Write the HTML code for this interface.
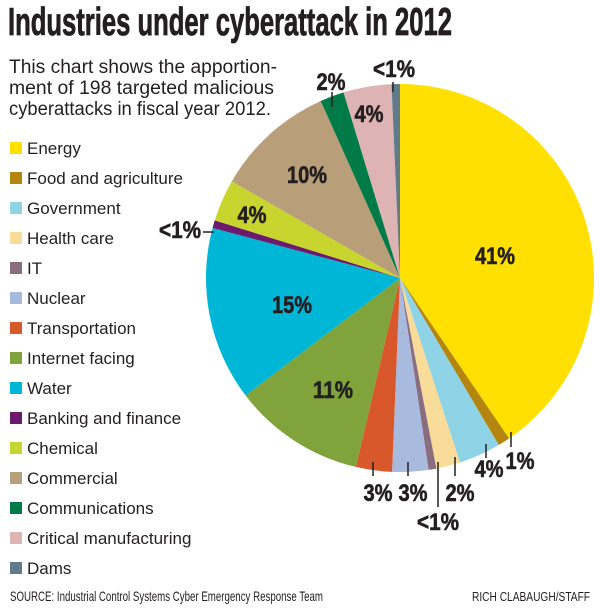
<!DOCTYPE html>
<html><head><meta charset="utf-8"><style>
body{margin:0;background:#fff;}
svg{display:block;font-family:"Liberation Sans",sans-serif;}
.t{font-family:"Liberation Sans Narrow","Liberation Sans",sans-serif;font-weight:bold;fill:#231f20;}
.lg{font-size:17px;fill:#231f20;}
.p{font-weight:bold;font-size:24px;fill:#231f20;text-anchor:middle;stroke:#231f20;stroke-width:0.6;}
</style></head><body>
<svg id="s" width="600" height="609" viewBox="0 0 600 609">
<text class="t" x="8" y="35" font-size="39" textLength="444" lengthAdjust="spacingAndGlyphs" stroke="#231f20" stroke-width="0.8">Industries under cyberattack in 2012</text>
<text x="9" y="73" font-size="19" fill="#231f20" textLength="268" lengthAdjust="spacingAndGlyphs">This chart shows the apportion-</text>
<text x="9" y="94" font-size="19" fill="#231f20" textLength="265" lengthAdjust="spacingAndGlyphs">ment of 198 targeted malicious</text>
<text x="9" y="115" font-size="19" fill="#231f20" textLength="262" lengthAdjust="spacingAndGlyphs">cyberattacks in fiscal year 2012.</text>
<g id="pie"></g>
<g id="leg"></g>
<g stroke="#231f20" stroke-width="1.5">
<line x1="332" y1="92" x2="332" y2="107"/>
<line x1="393" y1="82" x2="393" y2="92"/>
<line x1="203" y1="232" x2="214" y2="232"/>
<line x1="511" y1="432" x2="511" y2="447"/>
<line x1="486" y1="444" x2="486" y2="458"/>
<line x1="455" y1="457" x2="455" y2="476"/>
<line x1="438" y1="462" x2="438" y2="507"/>
<line x1="408" y1="462" x2="408" y2="476"/>
<line x1="373" y1="462" x2="373" y2="476"/>
</g>
<g id="labs"></g>
<text x="10" y="601" font-size="14" fill="#231f20" textLength="313" lengthAdjust="spacingAndGlyphs">SOURCE: Industrial Control Systems Cyber Emergency Response Team</text>
<text x="472" y="601" font-size="13" fill="#231f20" textLength="118" lengthAdjust="spacingAndGlyphs">RICH CLABAUGH/STAFF</text>
</svg>
<script>
var d=[["Energy",81,"#ffe000"],["Food and agriculture",2,"#b5860f"],["Government",7,"#8fd4e6"],["Health care",4,"#f9dc99"],["IT",1.3,"#8a6e80"],["Nuclear",6,"#a9badf"],["Transportation",6,"#d9582b"],["Internet facing",22,"#80a43b"],["Water",29,"#00b6d7"],["Banking and finance",1.3,"#6c1a6c"],["Chemical",7,"#c9d52f"],["Commercial",20,"#b99f79"],["Communications",4,"#007a46"],["Critical manufacturing",8,"#ddb3b3"],["Dams",1.4,"#5f7a8b"]];
var tot=0;d.forEach(function(x){tot+=x[1];});
var cx=400,cy=278,r=194,a=0,ns="http://www.w3.org/2000/svg",pie=document.getElementById("pie"),leg=document.getElementById("leg");
d.forEach(function(x,i){
 var b=a+x[1]/tot*2*Math.PI;
 var x1=cx+r*Math.sin(a),y1=cy-r*Math.cos(a),x2=cx+r*Math.sin(b),y2=cy-r*Math.cos(b);
 var p=document.createElementNS(ns,"path");
 p.setAttribute("d","M"+cx+","+cy+"L"+x1+","+y1+"A"+r+","+r+" 0 "+((b-a)>Math.PI?1:0)+" 1 "+x2+","+y2+"Z");
 p.setAttribute("fill",x[2]);pie.appendChild(p);a=b;
 var y=148+i*30;
 var rc=document.createElementNS(ns,"rect");
 rc.setAttribute("x",10);rc.setAttribute("y",y-6);rc.setAttribute("width",12);rc.setAttribute("height",12);rc.setAttribute("fill",x[2]);leg.appendChild(rc);
 var t=document.createElementNS(ns,"text");
 t.setAttribute("x",27);t.setAttribute("y",y+6);t.setAttribute("class","lg");t.textContent=x[0];leg.appendChild(t);
});
var L=[["41%",495,264],["15%",292,313],["11%",333,398],["10%",307,183],["4%",252,223],["<1%",180,238],["4%",369,122],["2%",331,90],["<1%",394,77],["1%",520,469],["4%",489,477],["2%",460,501],["<1%",438,530],["3%",413,501],["3%",378,501]];
var lg=document.getElementById("labs");
L.forEach(function(l){
 var t=document.createElementNS(ns,"text");
 t.setAttribute("class","p");t.setAttribute("x",l[1]);t.setAttribute("y",l[2]);
 var w=l[0].length==3&&l[0][0]!="<"?40:(l[0][0]=="<"?42:29);
 t.setAttribute("textLength",w);t.setAttribute("lengthAdjust","spacingAndGlyphs");
 t.textContent=l[0];lg.appendChild(t);
});
</script>
</body></html>
